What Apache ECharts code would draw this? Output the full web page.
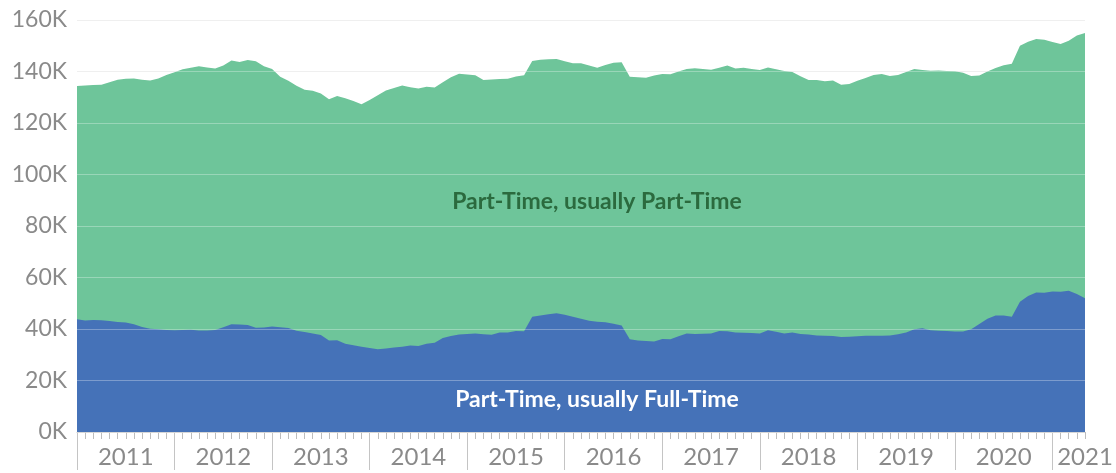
<!DOCTYPE html>
<html>
<head>
<meta charset="UTF-8">
<title>Part-Time workers</title>
<script src="https://cdn.jsdelivr.net/npm/echarts@6/dist/echarts.min.js"></script>
<style>
  html, body { margin: 0; padding: 0; background: #fff; }
  #chart { width: 1116px; height: 473px; }
</style>
</head>
<body>
<div id="chart"></div>
<script>
// monthly, Jan 2011 .. May 2021, values in thousands
var startYear = 2011;
var monthCount = 125;

// total part-time (top of the green area)
var totalPartTime = [
  134.4, 134.6, 134.8, 134.9, 135.8, 136.8, 137.2, 137.3, 136.8, 136.5, 137.3, 138.6,
  139.7, 140.9, 141.5, 142.0, 141.6, 141.2, 142.3, 144.3, 143.7, 144.5, 144.0, 142.0,
  141.0, 138.0, 136.4, 134.5, 132.9, 132.5, 131.5, 129.2, 130.5, 129.6, 128.5, 127.3,
  128.9, 130.8, 132.6, 133.6, 134.6, 133.9, 133.4, 134.1, 133.8, 135.8, 137.8, 139.1,
  138.8, 138.5, 136.7, 136.9, 137.1, 137.2, 138.1, 138.5, 144.1, 144.6, 144.8, 144.9,
  144.0, 143.2, 143.2, 142.3, 141.5, 142.5, 143.4, 143.6, 138.0, 137.8, 137.6, 138.4,
  139.0, 138.9, 140.0, 141.0, 141.3, 141.0, 140.7, 141.5, 142.3, 141.2, 141.5, 141.0,
  140.6, 141.6, 140.9, 140.2, 139.8, 138.2, 136.7, 136.7, 136.2, 136.5, 134.9, 135.1,
  136.4, 137.5, 138.6, 139.0, 138.3, 138.6, 139.8, 141.0, 140.6, 140.3, 140.4, 140.2,
  140.1, 139.5, 138.3, 138.4, 140.0, 141.4, 142.4, 143.0, 150.0, 151.6, 152.6, 152.3,
  151.5, 150.7, 151.9, 154.0, 155.0
];

// part-time, usually full-time (blue area)
var usuallyFullTime = [
  43.8, 43.3, 43.5, 43.4, 43.1, 42.7, 42.5, 41.8, 40.8, 40.1, 39.9, 39.6,
  39.5, 39.6, 39.7, 39.4, 39.4, 39.6, 40.7, 41.8, 41.7, 41.6, 40.5, 40.6,
  41.0, 40.7, 40.4, 39.3, 38.8, 38.3, 37.7, 35.5, 35.6, 34.3, 33.7, 33.1,
  32.6, 32.1, 32.4, 32.8, 33.1, 33.6, 33.4, 34.3, 34.7, 36.5, 37.3, 37.9,
  38.1, 38.3, 38.0, 37.8, 38.6, 38.6, 39.2, 39.1, 44.8, 45.2, 45.7, 46.1,
  45.5, 44.8, 44.0, 43.2, 42.8, 42.6, 42.0, 41.4, 36.0, 35.5, 35.3, 35.1,
  36.1, 36.0, 37.2, 38.3, 38.1, 38.2, 38.3, 39.2, 39.1, 38.6, 38.5, 38.4,
  38.3, 39.5, 38.9, 38.3, 38.6, 38.1, 37.9, 37.5, 37.4, 37.3, 36.9, 37.0,
  37.2, 37.4, 37.4, 37.4, 37.5, 38.0, 38.6, 39.9, 40.3, 39.5, 39.3, 39.2,
  39.0, 39.0, 39.9, 41.9, 44.0, 45.2, 45.2, 44.8, 50.6, 52.8, 54.2, 54.1,
  54.6, 54.5, 54.9, 53.6, 51.9
];

var yTicks = [0, 20, 40, 60, 80, 100, 120, 140, 160];

var months = [];
for (var i = 0; i < monthCount; i++) {
  var y = startYear + Math.floor(i / 12);
  var m = (i % 12) + 1;
  months.push(y + '-' + (m < 10 ? '0' + m : m));
}

var fontFamily = 'Lato, "Open Sans", sans-serif';
var chart = echarts.init(document.getElementById('chart'), null, { renderer: 'canvas' });

var option = {
  animation: false,
  grid: { left: 77, right: 31, top: 20, bottom: 41, containLabel: false },
  xAxis: [{
    type: 'category',
    data: months,
    boundaryGap: false,
    axisLine: { lineStyle: { color: '#c4c4c4', width: 1 } },
    axisTick: { show: true, interval: 0, length: 7, lineStyle: { color: '#bdbdbd' } },
    axisLabel: {
      interval: function (idx) { return idx % 12 === 6 || idx === monthCount - 1; },
      formatter: function (v) { return v.slice(0, 4); },
      color: '#8a8a8a',
      fontSize: 24,
      fontFamily: fontFamily,
      margin: 13
    },
    splitLine: { show: false }
  }, {
    type: 'category',
    data: months,
    boundaryGap: false,
    position: 'bottom',
    axisLine: { show: false },
    axisTick: {
      show: true,
      interval: function (idx) { return idx % 12 === 0; },
      length: 38,
      lineStyle: { color: '#c4c4c4' }
    },
    axisLabel: { show: false },
    splitLine: { show: false }
  }],
  yAxis: [{
    type: 'value',
    min: yTicks[0],
    max: yTicks[yTicks.length - 1],
    interval: 20,
    axisLine: { show: false },
    axisTick: { show: false },
    axisLabel: {
      formatter: function (v) { return v + 'K'; },
      color: '#8a8a8a',
      fontSize: 23,
      fontFamily: fontFamily,
      margin: 10
    },
    splitLine: { lineStyle: { color: '#e8e8e8', width: 1 } }
  }, {
    type: 'value',
    min: yTicks[0],
    max: yTicks[yTicks.length - 1],
    interval: 20,
    position: 'left',
    z: 5,
    axisLine: { show: false },
    axisTick: { show: false },
    axisLabel: { show: false },
    splitLine: { lineStyle: { color: 'rgba(255,255,255,0.3)', width: 1 } }
  }],
  series: [{
    name: 'Part-Time, usually Part-Time',
    type: 'line',
    data: totalPartTime,
    showSymbol: false,
    lineStyle: { width: 0 },
    areaStyle: { color: '#6ec59a', opacity: 1 },
    z: 2
  }, {
    name: 'Part-Time, usually Full-Time',
    type: 'line',
    data: usuallyFullTime,
    showSymbol: false,
    lineStyle: { width: 0 },
    areaStyle: { color: '#4572b8', opacity: 1 },
    z: 3
  }],
  graphic: [{
    type: 'text',
    x: 597,
    y: 202,
    z: 10,
    style: {
      text: 'Part-Time, usually Part-Time',
      fill: '#2b6a3e',
      font: 'bold 23px ' + fontFamily,
      align: 'center',
      verticalAlign: 'middle'
    }
  }, {
    type: 'text',
    x: 597,
    y: 400,
    z: 10,
    style: {
      text: 'Part-Time, usually Full-Time',
      fill: '#ffffff',
      font: 'bold 23px ' + fontFamily,
      align: 'center',
      verticalAlign: 'middle'
    }
  }]
};

chart.setOption(option);
</script>
</body>
</html>
